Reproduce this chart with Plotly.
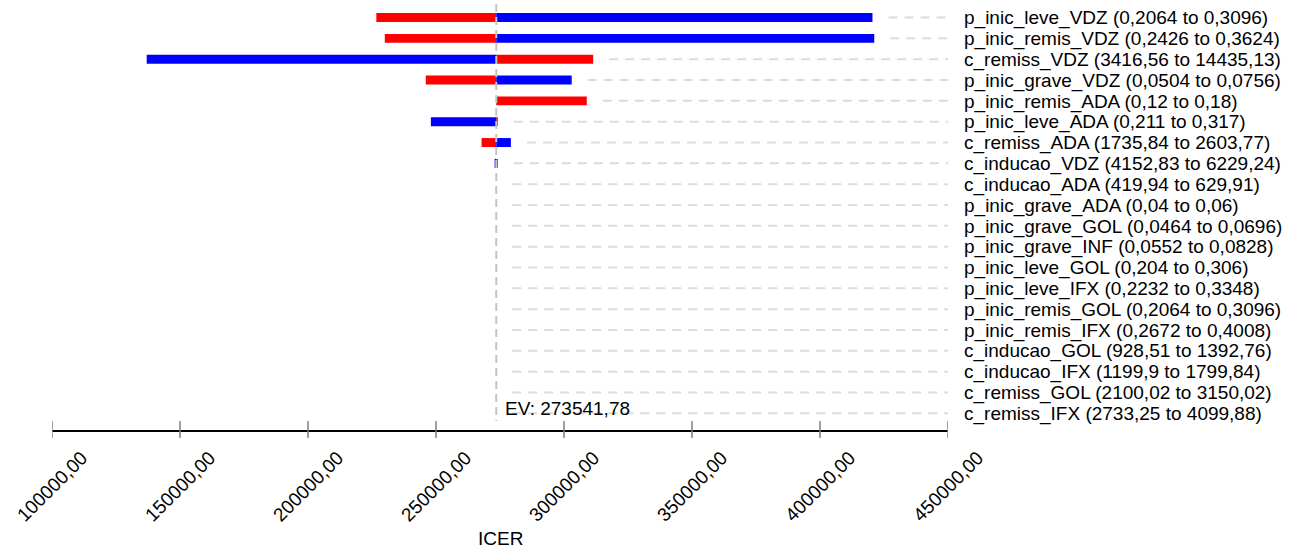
import plotly.graph_objects as go

# ---------------- data ----------------
PARAMS = [
    "p_inic_leve_VDZ (0,2064 to 0,3096)",
    "p_inic_remis_VDZ (0,2426 to 0,3624)",
    "c_remiss_VDZ (3416,56 to 14435,13)",
    "p_inic_grave_VDZ (0,0504 to 0,0756)",
    "p_inic_remis_ADA (0,12 to 0,18)",
    "p_inic_leve_ADA (0,211 to 0,317)",
    "c_remiss_ADA (1735,84 to 2603,77)",
    "c_inducao_VDZ (4152,83 to 6229,24)",
    "c_inducao_ADA (419,94 to 629,91)",
    "p_inic_grave_ADA (0,04 to 0,06)",
    "p_inic_grave_GOL (0,0464 to 0,0696)",
    "p_inic_grave_INF (0,0552 to 0,0828)",
    "p_inic_leve_GOL (0,204 to 0,306)",
    "p_inic_leve_IFX (0,2232 to 0,3348)",
    "p_inic_remis_GOL (0,2064 to 0,3096)",
    "p_inic_remis_IFX (0,2672 to 0,4008)",
    "c_inducao_GOL (928,51 to 1392,76)",
    "c_inducao_IFX (1199,9 to 1799,84)",
    "c_remiss_GOL (2100,02 to 3150,02)",
    "c_remiss_IFX (2733,25 to 4099,88)",
]
EV = 273541.78
EV_LABEL = "EV: 273541,78"
RED_VALUES = [226700, 230000, 311400, 246000, 308900, 274150, 267800, 274200,
              EV, EV, EV, EV, EV, EV, EV, EV, EV, EV, EV, EV]
BLUE_VALUES = [420500, 421200, 137000, 303000, EV, 248000, 279250, 272900,
               EV, EV, EV, EV, EV, EV, EV, EV, EV, EV, EV, EV]
TICK_VALUES = [100000, 150000, 200000, 250000, 300000, 350000, 400000, 450000]
TICK_LABELS = ["100000,00", "150000,00", "200000,00", "250000,00",
               "300000,00", "350000,00", "400000,00", "450000,00"]
AXIS_TITLE = "ICER"

# ---------------- figure ----------------
FONT = dict(family="Liberation Sans, Arial, sans-serif", size=19, color="#000000")
rows = list(range(len(PARAMS)))
x_min, x_max = TICK_VALUES[0], TICK_VALUES[-1]
grid_gap = 6250  # gap between bar end and dashed guide (data units)

fig = go.Figure()

# dashed guide lines per row
gx, gy = [], []
for r, lo, hi in zip(rows, RED_VALUES, BLUE_VALUES):
    start = max(lo, hi, EV) + grid_gap
    gx += [start, x_max, None]
    gy += [r, r, None]
fig.add_trace(go.Scatter(x=gx, y=gy, mode="lines",
                         line=dict(color="#dcdcdc", width=2, dash="9px,7px"),
                         hoverinfo="skip", showlegend=False))

# EV vertical line
fig.add_trace(go.Scatter(x=[EV, EV], y=[-0.65, 19.37], mode="lines",
                         line=dict(color="#c4c4c4", width=2, dash="8px,5px"),
                         hoverinfo="skip", showlegend=False))

# bars
fig.add_trace(go.Bar(y=rows, x=[v - EV for v in RED_VALUES], base=EV,
                     orientation="h", width=0.43,
                     marker=dict(color="#ff0000", line=dict(width=0)),
                     showlegend=False))
fig.add_trace(go.Bar(y=rows, x=[v - EV for v in BLUE_VALUES], base=EV,
                     orientation="h", width=0.43,
                     marker=dict(color="#0000ff", line=dict(width=0)),
                     showlegend=False))

# crossing ticks on the axis
for v in TICK_VALUES:
    fig.add_shape(type="line", xref="x", yref="paper", x0=v, x1=v,
                  y0=9 / 426, y1=-8 / 426,
                  line=dict(color="#808080", width=1.5))

# rotated tick labels centred on ticks
for v, lab in zip(TICK_VALUES, TICK_LABELS):
    fig.add_annotation(x=v, xref="x", y=-14 / 426, yref="paper",
                       text=lab, textangle=-45, showarrow=False,
                       xanchor="center", yanchor="top", font=FONT)

# EV label
fig.add_annotation(x=EV, xref="x", y=18.75, yref="y", text=EV_LABEL,
                   showarrow=False, xanchor="left", yanchor="middle",
                   xshift=7, font=FONT)

# axis title
fig.add_annotation(x=0.5, xref="paper", y=-108 / 426, yref="paper",
                   text=AXIS_TITLE, showarrow=False, xanchor="center",
                   yanchor="middle", font=FONT)

fig.update_layout(
    template="none",
    width=1296, height=549,
    margin=dict(l=52, r=348, t=4, b=119, pad=0),
    paper_bgcolor="white", plot_bgcolor="white",
    barmode="overlay",
    font=FONT,
    xaxis=dict(range=[x_min, x_max], showline=True, linecolor="#000000",
               linewidth=1.5, ticks="", showticklabels=False,
               showgrid=False, zeroline=False, automargin=False,
               fixedrange=True),
    yaxis=dict(range=[19.8, -0.65], side="right", tickmode="array",
               tickvals=rows, ticktext=PARAMS, ticks="",
               showgrid=False, zeroline=False, showline=False,
               ticklabelstandoff=15, automargin=False, fixedrange=True,
               tickfont=FONT),
    hovermode=False,
)

fig.write_html("out.html",
               config={"displayModeBar": False, "staticPlot": True},
               post_script="document.body.style.margin='0px';"
                           "document.body.style.padding='0px';")
